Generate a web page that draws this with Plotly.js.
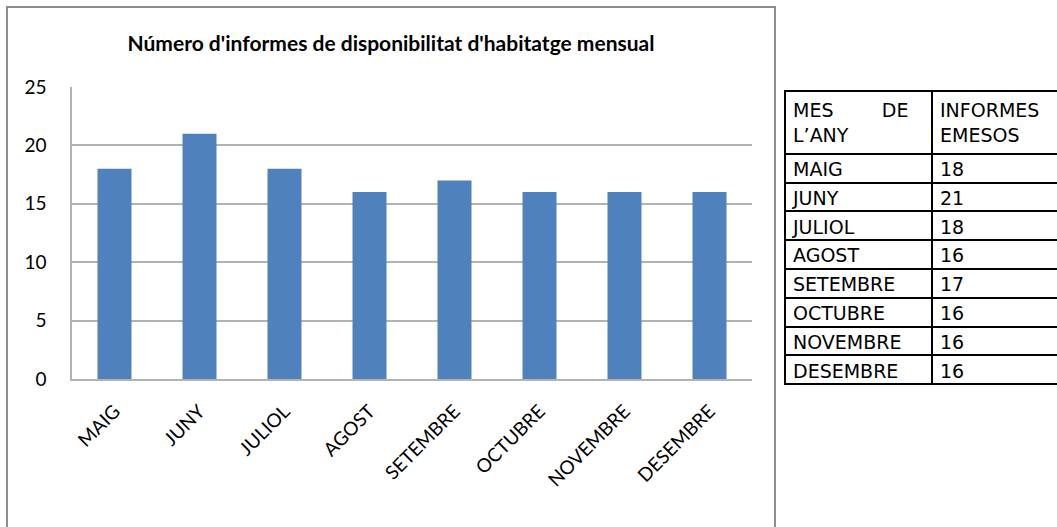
<!DOCTYPE html>
<html>
<head>
<meta charset="utf-8">
<script src="https://cdn.plot.ly/plotly-3.0.1.min.js"></script>
<style>
html, body { margin:0; padding:0; overflow:hidden; background:#fff; }
#chart { width:1100px; height:527px; }
</style>
</head>
<body>
<div id="chart"></div>
<script>
// ---- data ----
var months = ["MAIG", "JUNY", "JULIOL", "AGOST", "SETEMBRE", "OCTUBRE", "NOVEMBRE", "DESEMBRE"];
var reports = [18, 21, 18, 16, 17, 16, 16, 16];
var yTicks = [0, 5, 10, 15, 20, 25];
var chartTitle = "Número d'informes de disponibilitat d'habitatge mensual";
var tableHeader = ["MES\u00A0\u00A0\u00A0\u00A0\u00A0\u00A0\u00A0\u00A0DE<br>L\u2019ANY", "INFORMES<br>EMESOS"];

// ---- layout helpers (pixel -> paper) ----
var FIG_W = 1100, FIG_H = 527, ML = 72, MR = 0, MT = 0, MB = 0;
var PW = FIG_W - ML - MR, PH = FIG_H - MT - MB;
function px(x) { return (x - ML) / PW; }
function py(y) { return (FIG_H - MB - y) / PH; }

var bar = {
  type: "bar",
  x: months,
  y: reports,
  marker: { color: "#4f81bd" },
  width: 0.4,
  hoverinfo: "x+y",
  xaxis: "x", yaxis: "y"
};

var table = {
  type: "table",
  domain: { x: [px(785), px(1080)], y: [py(520), py(91)] },
  columnwidth: [147, 148],
  header: {
    values: tableHeader,
    align: "left",
    height: 56,
    line: { color: "#000", width: 2 },
    fill: { color: "#fff" },
    font: { family: "DejaVu Sans", size: 19, color: "#000" }
  },
  cells: {
    values: [months, reports],
    align: "left",
    height: 28.8,
    line: { color: "#000", width: 2 },
    fill: { color: "#fff" },
    font: { family: "DejaVu Sans", size: 19, color: "#000" }
  }
};

var layout = {
  width: FIG_W, height: FIG_H,
  margin: { l: ML, r: MR, t: MT, b: MB },
  paper_bgcolor: "#fff",
  plot_bgcolor: "#fff",
  showlegend: false,
  font: { family: "Lato", color: "#000" },
  title: {
    text: chartTitle,
    font: { family: "Lato", size: 21, weight: "bold", color: "#000" },
    xref: "container", yref: "container",
    x: 391 / FIG_W, xanchor: "center",
    y: 1 - 44 / FIG_H, yanchor: "middle"
  },
  xaxis: {
    domain: [0, px(752)],
    type: "category",
    tickangle: -45,
    tickfont: { family: "Lato", size: 19, color: "#000" },
    showline: true, linecolor: "#b3b3b3", linewidth: 1.5,
    ticks: "", showgrid: false,
    ticklabelstandoff: 12,
    fixedrange: true
  },
  yaxis: {
    domain: [py(379), py(87)],
    range: [0, 25],
    tickvals: yTicks,
    tickfont: { family: "Lato", size: 19, color: "#000" },
    showline: true, linecolor: "#b3b3b3", linewidth: 1.5,
    showgrid: true, gridcolor: "#b3b3b3", gridwidth: 1.5,
    zeroline: false,
    ticks: "",
    ticklabelstandoff: 20,
    fixedrange: true
  },
  shapes: [
    {
      type: "rect", xref: "paper", yref: "paper",
      x0: px(7), x1: px(775), y0: py(545), y1: py(7),
      line: { color: "#8c8c8c", width: 2 },
      fillcolor: "rgba(0,0,0,0)",
      layer: "below"
    }
  ]
};

Plotly.newPlot("chart", [bar, table], layout, { displayModeBar: false, staticPlot: false });
</script>
</body>
</html>
